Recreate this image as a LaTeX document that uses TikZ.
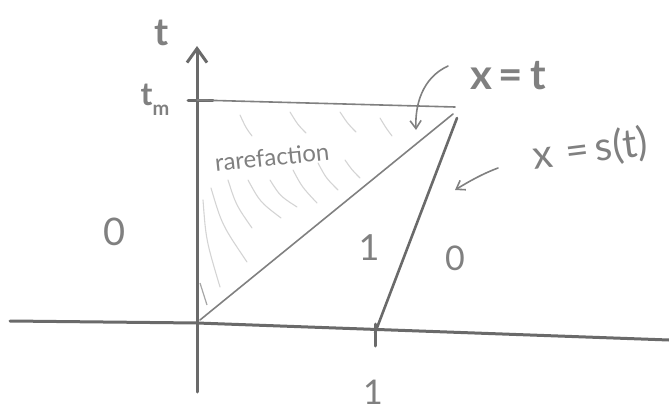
\documentclass[tikz,border=0pt]{standalone}
\usepackage{fontspec}
\setmainfont{Lato}
\usetikzlibrary{arrows.meta}
\definecolor{pen}{HTML}{808080}
\definecolor{axispen}{HTML}{6A6A6A}
\definecolor{hatch}{HTML}{D4D4D4}
\tikzset{
  axisline/.style={draw=axispen, line width=3pt, line cap=round},
  thinline/.style={draw=pen, line width=1.6pt, line cap=round},
  shockline/.style={draw=axispen, line width=2.6pt, line cap=round},
  hatchline/.style={draw=hatch, line width=1.1pt, line cap=round},
  penarrow/.style={draw=pen, line width=1.6pt, line cap=round, -{Straight Barb[length=8pt,width=11pt]}},
  handtext/.style={text=pen, inner sep=0pt},
}
\begin{document}
\begin{tikzpicture}[x=1pt,y=-1pt]
\useasboundingbox (0,0) rectangle (669,412);
% named points
\coordinate (O) at (197,323);
\coordinate (xend) at (669,340);
\coordinate (xstart) at (10,321);
\coordinate (ybot) at (197,392);
\coordinate (ytop) at (197,46);
\coordinate (tm) at (197,100);
\coordinate (tmR) at (455,107);
\coordinate (one) at (375,333);
\coordinate (T) at (453,114);
\coordinate (S) at (457,118);
% hatching
\draw[hatchline] (203,200) .. controls (206,240) .. (220,287);
\draw[hatchline] (211,188) .. controls (222,225) .. (247,262);
\draw[hatchline] (228,180) .. controls (236,205) .. (252,228);
\draw[hatchline] (248,180) .. controls (260,202) .. (281,218);
\draw[hatchline] (270,180) .. controls (280,196) .. (297,207);
\draw[hatchline] (293,170) .. controls (302,187) .. (317,203);
\draw[hatchline] (318,163) .. controls (326,178) .. (338,190);
\draw[hatchline] (345,160) .. controls (352,170) .. (360,178);
\draw[hatchline] (240,115) .. controls (246,128) .. (252,136);
\draw[hatchline] (290,112) .. controls (298,125) .. (306,133);
\draw[hatchline] (340,112) .. controls (348,124) .. (356,132);
\draw[hatchline] (380,118) .. controls (386,128) .. (392,136);
\draw[draw=pen!70, line width=1.2pt] (200,283) -- (207,305);
% axes
\draw[axisline] (xstart) -- (O) -- (xend);
\draw[axisline, -{Straight Barb[length=14pt,width=20pt,line width=3pt]}] (ybot) -- (ytop);
\draw[axisline] (188,100) -- (213,100);
\draw[axisline] (375,324) -- (375,346);
% lines
\draw[thinline] (tm) -- (tmR);
\draw[thinline] (200,320) -- (T);
\draw[shockline] (one) -- (S);
% labels
\node[handtext, font=\fontsize{38}{40}\selectfont\bfseries] (tlab) at (162,33) {t};
\node[handtext, font=\fontsize{32}{34}\selectfont\bfseries] (tmlab) at (155,100) {t\raisebox{-0.3em}{\fontsize{20}{20}\selectfont m}};
\node[handtext, font=\fontsize{24}{26}\selectfont, rotate=6] (rare) at (272,157) {rarefaction};
\node[handtext, font=\fontsize{42}{44}\selectfont\bfseries] (xt) at (508,76) {x\,=\,t};
\node[handtext, font=\fontsize{40}{42}\selectfont, rotate=7] (xs) at (590,150) {x\,\,=\,s(t)};
\node[handtext, font=\fontsize{38}{40}\selectfont] (zeroL) at (115,232) {0};
\node[handtext, font=\fontsize{36}{38}\selectfont] (oneM) at (369,248) {1};
\node[handtext, font=\fontsize{34}{36}\selectfont] (zeroR) at (455,258) {0};
\node[handtext, font=\fontsize{34}{36}\selectfont] (oneB) at (373,392) {1};
% pointers
\draw[penarrow] (448,66) .. controls (422,78) and (415,105) .. (416,130);
\draw[penarrow] (498,168) .. controls (482,174) and (468,182) .. (455,190);
\end{tikzpicture}
\end{document}
